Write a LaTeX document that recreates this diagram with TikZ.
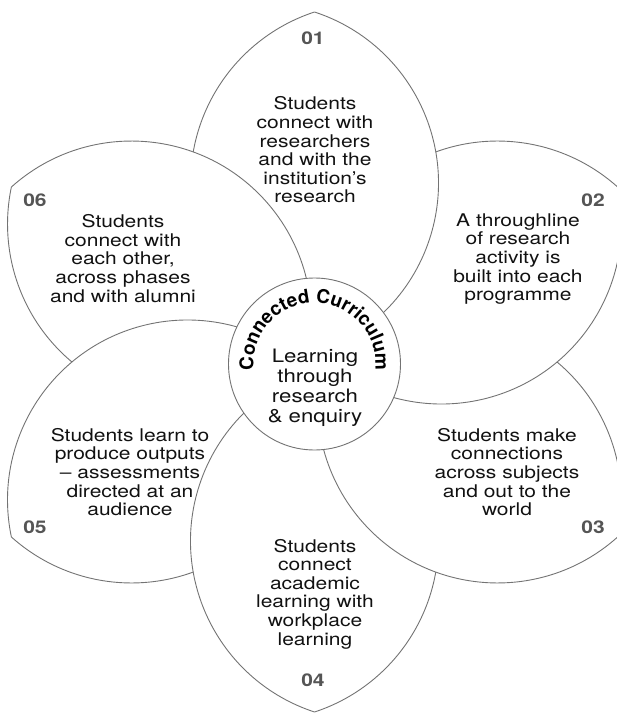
\documentclass[tikz,border=0pt]{standalone}
\usepackage{fontspec}
\setmainfont{TeX Gyre Heros}[FakeStretch=1.2]
\newfontfamily\ccarcfam{TeX Gyre Heros}
\usetikzlibrary{decorations.text,calc}
\newcommand\ccbody{\fontsize{17.5}{18.6}\selectfont}
\newcommand\ccnum{\bfseries\fontsize{17.5}{18}\selectfont}
\newcommand\ccarc{\ccarcfam\bfseries\fontsize{19}{20}\selectfont}
\newcommand\cccenter{\fontsize{18.5}{20}\selectfont}
\definecolor{numgray}{HTML}{555555}
\definecolor{txt}{HTML}{111111}
\begin{document}
\begin{tikzpicture}[
  petal/.style={draw=black!55, line width=0.9pt},
  ptext/.style={align=center, inner sep=0pt, text=txt, font=\ccbody},
  pnum/.style={inner sep=0pt, text=numgray, font=\ccnum}
]
\useasboundingbox (-314.5pt,-351pt) rectangle (302.5pt,362pt);
% petals (pinwheel lenses)
\foreach \k in {0,...,5}{
  \pgfmathsetmacro\p{-60*\k}
  \draw[petal] ({90+\p}:350pt) arc[start angle={71.87+\p}, end angle={-71.87+\p}, radius=180pt];
  \draw[petal] ({90+\p}:350pt) arc[start angle={108.13+\p}, end angle={170.05+\p}, radius=180pt];
}
% central circle
\coordinate (cc) at (0pt,-2pt);
\node[circle, draw=black!55, line width=0.9pt, fill=white, minimum size=172pt, inner sep=0pt] (hub) at (cc) {};
\path[decorate, decoration={text along path, text align=center,
  text={|\ccarc|Connected Curriculum}}]
  ($(cc)+(192:61pt)$) arc[start angle=192, end angle=-12, radius=61pt];
\node[ptext, font=\cccenter] (centre) at (0.5pt,-26pt) {Learning\\through\\research\\\& enquiry};
% petal texts
\node[ptext] (t1) at (0.5pt,212pt) {Students\\connect with\\researchers\\and with the\\institution’s\\research};
\node[ptext] (t2) at (203.5pt,103pt) {A throughline\\of research\\activity is\\built into each\\programme};
\node[ptext] (t3) at (192.5pt,-110pt) {Students make\\connections\\across subjects\\and out to the\\world};
\node[ptext] (t4) at (0.5pt,-232pt) {Students\\connect\\academic\\learning with\\workplace\\learning};
\node[ptext] (t5) at (-184.5pt,-110pt) {Students learn to\\produce outputs\\– assessments\\directed at an\\audience};
\node[ptext] (t6) at (-191.5pt,103.5pt) {Students\\connect with\\each other,\\across phases\\and with alumni};
% numbers
\node[pnum] (n1) at (-1.5pt,324pt) {01};
\node[pnum] (n2) at (278.5pt,162pt) {02};
\node[pnum] (n3) at (278.5pt,-165pt) {03};
\node[pnum] (n4) at (-1.5pt,-318pt) {04};
\node[pnum] (n5) at (-279.5pt,-165pt) {05};
\node[pnum] (n6) at (-279.5pt,162pt) {06};
\end{tikzpicture}
\end{document}
